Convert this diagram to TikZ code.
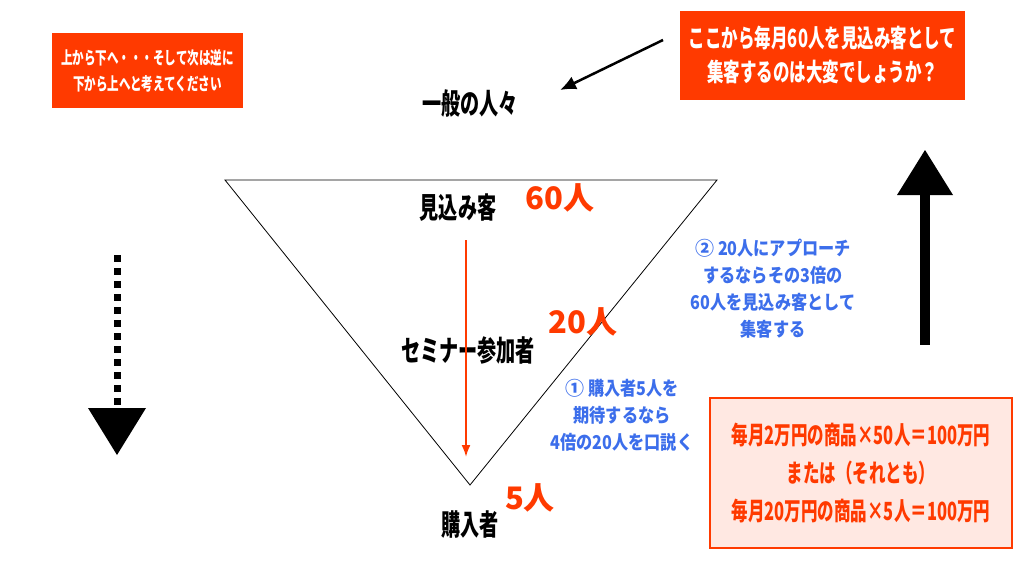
\documentclass[tikz,border=0pt]{standalone}
\usepackage{fontspec}
\usetikzlibrary{arrows.meta}
\newfontfamily\jp{Noto Sans CJK JP}[FakeStretch=0.66]
\newfontfamily\jpb{Noto Sans CJK JP}[FakeStretch=0.85]
\newfontfamily\jpn{Noto Sans CJK JP}
\definecolor{ored}{RGB}{255,58,0}
\definecolor{bblue}{RGB}{60,110,235}
\definecolor{pinkf}{RGB}{255,232,226}
\tikzset{
 redbox/.style={fill=ored,text=white,align=center,inner sep=0pt},
 blk/.style={font=\jp\bfseries\fontsize{29}{32}\selectfont},
 num/.style={text=ored,font=\jpn\bfseries\fontsize{31}{34}\selectfont},
 blu/.style={text=bblue,font=\jpb\bfseries\fontsize{19}{27}\selectfont,align=center},
}
\begin{document}
\begin{tikzpicture}[x=1pt,y=-1pt]
\useasboundingbox (0,0) rectangle (1024,576);
\node[redbox,minimum width=191,minimum height=75,font=\jp\bfseries\fontsize{17.5}{26}\selectfont] (lb) at (147.5,70.5) {上から下へ・・・そして次は逆に\\下から上へと考えてください};
\node[redbox,minimum width=285,minimum height=89,font=\jp\bfseries\fontsize{25}{34}\selectfont] (rb) at (822.5,55.5) {ここから毎月60人を見込み客として\\集客するのは大変でしょうか？};
\node[blk] (ip) at (470,103) {一般の人々};
\coordinate (as) at (663,40);
\coordinate (ae) at (560,90);
\draw[line width=2.5pt,-{Latex[length=16pt,width=14pt]}] (as) -- (ae);
\coordinate (t1) at (225,180); \coordinate (t2) at (717,180); \coordinate (t3) at (470,485);
\draw[line width=0.8pt] (t1) -- (t2) -- (t3) -- cycle;
\node[blk] (mk) at (458,208) {見込み客};
\node[num] (n60) at (560,198) {60人};
\node[blk] (sm) at (468,350) {セミナー参加者};
\node[num] (n20) at (583,322) {20人};
\node[blk] (kn) at (470,525) {購入者};
\node[num] (n5) at (530,498) {5人};
\coordinate (ra) at (466,240); \coordinate (rb2) at (466,457);
\draw[ored,line width=2pt,-{Latex[length=12pt,width=9pt]}] (ra) -- (rb2);
\node[blu] (b1) at (622,415) {\jpn ①\jpb{} 購入者5人を\\期待するなら\\4倍の20人を口説く};
\node[blu] (b2) at (773,289) {\jpn ②\jpb{} 20人にアプローチ\\するならその3倍の\\60人を見込み客として\\集客する};
\node[draw=ored,line width=1.5pt,fill=pinkf,minimum width=302,minimum height=150,text=ored,font=\jp\bfseries\fontsize{25}{38}\selectfont,align=center] (pb) at (861,473) {毎月2万円の商品×50人＝100万円\\または（それとも）\\毎月20万円の商品×5人＝100万円};
% dotted arrow
\draw[line width=7pt,dash pattern=on 7pt off 6pt] (117,255) -- (117,408);
\fill (88,408) -- (146,408) -- (117,455) -- cycle;
% up arrow
\fill (920,345) rectangle (930,194);
\fill (897,195) -- (953,195) -- (925,150) -- cycle;
\end{tikzpicture}
\end{document}
